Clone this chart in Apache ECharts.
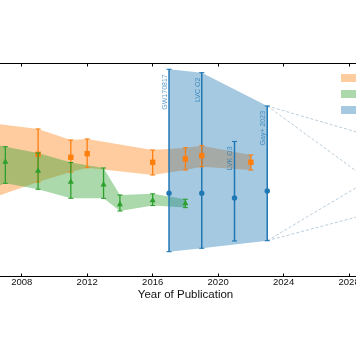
<!DOCTYPE html>
<html><head><meta charset="utf-8">
<script src="https://cdn.jsdelivr.net/npm/echarts@6/dist/echarts.min.js"></script>
<style>html,body{margin:0;padding:0;background:#fff}#c{width:356px;height:364px}</style>
</head><body><div id="c"></div>
<script>
// ---- Distance ladder (orange, squares) ----
const ladderYears = [2001, 2009, 2011, 2012, 2016, 2018, 2019, 2022];
const ladderH0    = [72.0, 74.19, 73.77, 74.27, 73.08, 73.54, 74.0, 73.08];
const ladderHi    = [80.0, 77.69, 76.17, 76.31, 74.78, 75.10, 75.38, 74.09];
const ladderLo    = [64.0, 70.35, 71.74, 72.33, 71.32, 72.01, 72.47, 72.01];
// ---- CMB (green, triangles) ----
const cmbYears = [2003, 2007, 2009, 2011, 2013, 2014, 2016, 2018];
const cmbH0    = [72.0, 73.16, 71.91, 70.39, 70.0, 67.26, 67.83, 67.40];
const cmbHi    = [77.0, 75.24, 74.37, 73.05, 72.29, 68.55, 68.71, 67.96];
const cmbLo    = [67.0, 70.17, 69.34, 68.09, 68.09, 66.33, 67.09, 66.80];
// ---- GW standard sirens (blue, circles) ----
const gwLabels = ['GW170817', 'LVC O2', 'LVK O3', 'Gay+ 2023'];
const gwYears  = [2017, 2019, 2021, 2023];
const gwH0     = [68.79, 68.79, 68.13, 69.10];
const gwHi     = [85.96, 85.49, 75.96, 80.88];
const gwLo     = [60.70, 61.17, 62.18, 62.22];
const gwBandIdx = [0, 1, 3];
// ---- projection cone (dashed) [x1, y1, x2, y2] ----
const coneLines = [
  [2023, 80.88, 2030, 76.25],
  [2023, 80.88, 2029.2, 70.6],
  [2023, 62.22, 2029.2, 70.6],
  [2023, 62.22, 2030, 66.42]
];
// ---- axes ----
const xTicks = [2008, 2012, 2016, 2020, 2024, 2028];
const xMin = 2006.674, xMax = 2028.422;
const yMin = 57.26, yMax = 86.76;
const legendNames = ['Distance ladder', 'CMB', 'Standard sirens'];

const ORANGE = '#ff7f0e', GREEN = '#2ca02c', BLUE = '#1f77b4';
const ORANGE_F = 'rgba(255,127,14,0.4)', GREEN_F = 'rgba(44,160,44,0.4)', BLUE_F = 'rgba(31,119,180,0.4)';

function bandSeries(name, years, hi, lo, fill, z) {
  return {
    type: 'custom', name, z, silent: true, clip: false,
    coordinateSystem: 'cartesian2d', xAxisIndex: 0, yAxisIndex: 0,
    data: [[years[0], hi[0]]],
    encode: { x: 0, y: 1 },
    renderItem: function (params, api) {
      const pts = [];
      for (let i = 0; i < years.length; i++) pts.push(api.coord([years[i], hi[i]]));
      for (let i = years.length - 1; i >= 0; i--) pts.push(api.coord([years[i], lo[i]]));
      return { type: 'polygon', shape: { points: pts }, style: { fill: fill } };
    }
  };
}

function errSeries(name, years, c, hi, lo, color, marker, z, labels) {
  return {
    type: 'custom', name, z, silent: true, clip: false,
    coordinateSystem: 'cartesian2d', xAxisIndex: 0, yAxisIndex: 0,
    data: years.map((yr, i) => [yr, c[i], hi[i], lo[i]]),
    encode: { x: 0, y: [1, 2, 3] },
    renderItem: function (params, api) {
      const x = api.value(0);
      const pc = api.coord([x, api.value(1)]);
      const ph = api.coord([x, api.value(2)]);
      const pl = api.coord([x, api.value(3)]);
      const cw = 2.5;
      const lw = marker === 'circle' ? 1.5 : 1.3;
      const ch = [
        { type: 'line', shape: { x1: pc[0], y1: ph[1], x2: pc[0], y2: pl[1] }, style: { stroke: color, lineWidth: lw } },
        { type: 'line', shape: { x1: pc[0] - cw, y1: ph[1], x2: pc[0] + cw, y2: ph[1] }, style: { stroke: color, lineWidth: 1.1 } },
        { type: 'line', shape: { x1: pc[0] - cw, y1: pl[1], x2: pc[0] + cw, y2: pl[1] }, style: { stroke: color, lineWidth: 1.1 } }
      ];
      if (marker === 'square') {
        ch.push({ type: 'rect', shape: { x: pc[0] - 2.7, y: pc[1] - 2.7, width: 5.4, height: 5.4 }, style: { fill: color } });
      } else if (marker === 'triangle') {
        ch.push({ type: 'polygon', shape: { points: [[pc[0], pc[1] - 3.5], [pc[0] - 3, pc[1] + 2], [pc[0] + 3, pc[1] + 2]] }, style: { fill: color } });
      } else {
        ch.push({ type: 'circle', shape: { cx: pc[0], cy: pc[1], r: 2.7 }, style: { fill: color } });
      }
      if (labels) {
        ch.push({
          type: 'text', x: pc[0] - 4, y: ph[1] + 5, rotation: Math.PI / 2,
          style: { text: labels[params.dataIndex], align: 'right', verticalAlign: 'middle',
                   fontSize: 7, fontFamily: 'Liberation Sans', fill: 'rgba(31,119,180,0.75)' }
        });
      }
      return { type: 'group', children: ch };
    }
  };
}

const coneSeries = {
  type: 'custom', name: 'cone', z: 2, silent: true, clip: false,
  coordinateSystem: 'cartesian2d', xAxisIndex: 0, yAxisIndex: 0,
  data: coneLines,
  encode: { x: [0, 2], y: [1, 3] },
  renderItem: function (params, api) {
    const a = api.coord([api.value(0), api.value(1)]);
    const b = api.coord([api.value(2), api.value(3)]);
    return { type: 'line', shape: { x1: a[0], y1: a[1], x2: b[0], y2: b[1] },
             style: { stroke: '#a9c0d2', lineWidth: 0.8, lineDash: [3, 2] } };
  }
};

const chart = echarts.init(document.getElementById('c'), null, { renderer: 'canvas' });

const axisCommon = {
  type: 'value', min: xMin, max: xMax,
  axisLine: { show: true, lineStyle: { color: '#000', width: 1 } },
  axisTick: { show: true, inside: true, length: 3, customValues: xTicks, lineStyle: { color: '#000', width: 1 } },
  splitLine: { show: false }
};

chart.setOption({
  animation: false,
  backgroundColor: '#fff',
  textStyle: { fontFamily: 'Liberation Sans' },
  grid: { left: 0, right: 0, top: 63.5, bottom: 364 - 276.5, containLabel: false, outerBoundsMode: 'none' },
  legend: {
    left: 341, top: 74, orient: 'vertical', padding: 0,
    itemWidth: 18, itemHeight: 8, itemGap: 8, selectedMode: false,
    textStyle: { fontSize: 8, lineHeight: 8, color: '#111' },
    data: [
      { name: legendNames[0], icon: 'rect', itemStyle: { color: ORANGE_F } },
      { name: legendNames[1], icon: 'rect', itemStyle: { color: GREEN_F } },
      { name: legendNames[2], icon: 'rect', itemStyle: { color: BLUE_F } }
    ]
  },
  xAxis: [
    Object.assign({}, axisCommon, {
      position: 'bottom',
      axisLabel: { fontSize: 9.5, color: '#111', margin: 1, fontFamily: 'Liberation Sans',
                   customValues: xTicks, formatter: v => String(v) },
      name: 'Year of Publication', nameLocation: 'middle', nameGap: 12, nameMoveOverlap: false,
      nameTextStyle: { fontSize: 11.5, color: '#111', fontFamily: 'Liberation Sans', padding: [0, 0, 0, 15] }
    }),
    Object.assign({}, axisCommon, { position: 'top', axisLabel: { show: false } })
  ],
  yAxis: { type: 'value', min: yMin, max: yMax, show: false, splitLine: { show: false } },
  series: [
    bandSeries(legendNames[0], ladderYears, ladderHi, ladderLo, ORANGE_F, 1),
    bandSeries(legendNames[1], cmbYears, cmbHi, cmbLo, GREEN_F, 1),
    bandSeries(legendNames[2], gwBandIdx.map(i => gwYears[i]), gwBandIdx.map(i => gwHi[i]), gwBandIdx.map(i => gwLo[i]), BLUE_F, 1),
    coneSeries,
    errSeries('gw-err', gwYears, gwH0, gwHi, gwLo, BLUE, 'circle', 3, gwLabels),
    errSeries('ladder-err', ladderYears, ladderH0, ladderHi, ladderLo, ORANGE, 'square', 4),
    errSeries('cmb-err', cmbYears, cmbH0, cmbHi, cmbLo, GREEN, 'triangle', 4)
  ]
});
</script></body></html>
